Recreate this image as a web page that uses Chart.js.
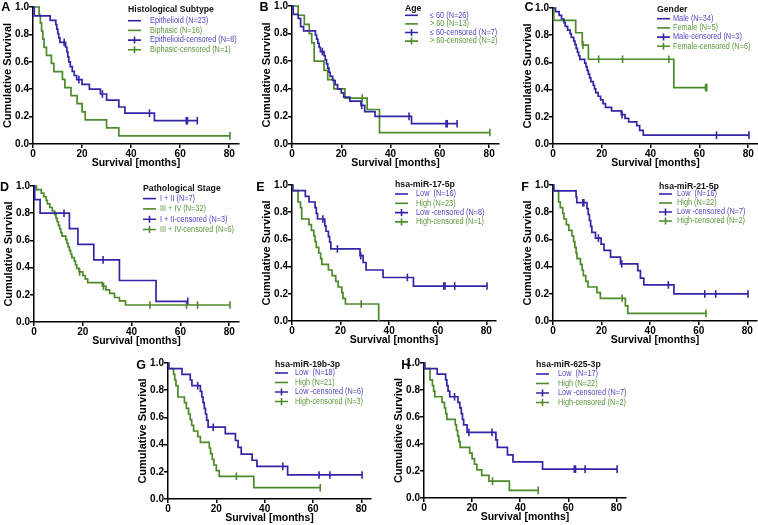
<!DOCTYPE html>
<html lang="en">
<head>
<meta charset="UTF-8">
<title>Kaplan-Meier survival</title>
<script src="https://cdn.jsdelivr.net/npm/chart.js@4"></script>
<style>
    body { margin: 0; background: #fff; }
    #wrap { position: relative; width: 758px; height: 525px; overflow: hidden; }
    #wrap canvas { position: absolute; }
    .letter { position: absolute; font: bold 12.5px 'Liberation Sans', Arial, sans-serif; line-height: 12px; color: #000; }
</style>
</head>
<body>
<div id="wrap"></div>
<script>
    // axis ticks
    const xTicks = [0, 20, 40, 60, 80];
    const yTicks = [0, 0.2, 0.4, 0.6, 0.8, 1.0];

    // A - histological subtype
    const epiTime = [0, 0.5, 7, 9.3, 9.7, 10.1, 10.5, 11, 13.3, 13.8, 14.2, 14.6, 15.2, 16, 16.8, 17.8, 20, 23, 27.5, 30, 35, 37.5, 49.5, 67];
    const epiSurv = [1, 0.935, 0.903, 0.871, 0.839, 0.806, 0.774, 0.742, 0.708, 0.672, 0.636, 0.6, 0.565, 0.53, 0.5, 0.47, 0.435, 0.4, 0.365, 0.32, 0.27, 0.225, 0.17, 0.17];
    const epiCens = [12.7, 18.7, 28.3, 47.5, 62.5, 63, 67];
    const biphTime = [0, 2.5, 3, 3.5, 4, 4.5, 5.5, 7.5, 8.5, 12, 13, 15.5, 18, 20, 21.3, 30, 35, 80.3];
    const biphSurv = [1, 0.941, 0.882, 0.824, 0.765, 0.706, 0.647, 0.588, 0.529, 0.471, 0.412, 0.353, 0.294, 0.235, 0.176, 0.118, 0.059, 0.059];
    const biphCens = [80.3];

    // B - age
    const ageLoTime = [0, 0.5, 2.5, 3.5, 4.7, 9.5, 10, 10.5, 11, 11.5, 13, 13.5, 14, 14.5, 15, 15.5, 16.5, 17.5, 18.5, 20, 21, 23.5, 28, 29.5, 33.7, 48.5, 67];
    const ageLoSurv = [1, 0.94, 0.91, 0.85, 0.82, 0.79, 0.76, 0.73, 0.70, 0.67, 0.64, 0.61, 0.58, 0.55, 0.52, 0.49, 0.46, 0.43, 0.40, 0.37, 0.34, 0.31, 0.28, 0.235, 0.2, 0.147, 0.147];
    const ageLoCens = [12.3, 28.3, 47.5, 62.5, 63, 67];
    const ageHiTime = [0, 2.5, 5, 7, 8, 9, 13, 14.5, 17, 21.5, 30.5, 35.5, 80.3];
    const ageHiSurv = [1, 0.933, 0.867, 0.8, 0.733, 0.6, 0.533, 0.467, 0.4, 0.333, 0.25, 0.083, 0.083];
    const ageHiCens = [28.5, 80.3];

    // C - gender
    const maleTime = [0, 1, 2.5, 3.5, 4.5, 5, 6, 7, 7.5, 8.5, 9, 9.5, 10, 10.5, 11, 13, 13.5, 14, 14.5, 15, 15.5, 16.5, 17, 17.5, 18.5, 19.5, 20.5, 21.5, 24, 28, 29.5, 31, 34.3, 35.5, 37, 80.3];
    const maleSurv = [1, 0.973, 0.946, 0.919, 0.892, 0.865, 0.838, 0.811, 0.784, 0.757, 0.730, 0.703, 0.676, 0.649, 0.622, 0.595, 0.568, 0.541, 0.514, 0.486, 0.459, 0.432, 0.405, 0.378, 0.351, 0.324, 0.297, 0.270, 0.243, 0.216, 0.189, 0.162, 0.135, 0.10, 0.065, 0.065];
    const maleCens = [28.3, 67, 80.3];
    const femaleTime = [0, 0.3, 9.3, 12, 14.5, 49.5, 63];
    const femaleSurv = [1, 0.909, 0.818, 0.727, 0.623, 0.415, 0.415];
    const femaleCens = [12.3, 18.7, 28.5, 47.5, 62.5, 63];

    // D - pathological stage
    const stage12Time = [0, 0.3, 2.5, 14.5, 18, 24.5, 35, 50, 63];
    const stage12Surv = [1, 0.9, 0.8, 0.686, 0.571, 0.457, 0.305, 0.152, 0.152];
    const stage12Cens = [12.3, 28.3, 63];
    const stage34Time = [0, 1, 3, 4, 5, 5.5, 6.5, 7.5, 8.5, 9, 9.5, 10, 10.5, 11, 11.5, 13, 13.5, 14, 14.5, 15, 15.5, 16.5, 17, 17.5, 18.5, 20, 21, 22, 28, 29.5, 31, 33, 35, 37.5, 80.3];
    const stage34Surv = [1, 0.974, 0.947, 0.921, 0.895, 0.868, 0.842, 0.816, 0.789, 0.763, 0.737, 0.711, 0.684, 0.658, 0.632, 0.605, 0.579, 0.553, 0.526, 0.5, 0.474, 0.447, 0.421, 0.395, 0.368, 0.342, 0.316, 0.289, 0.263, 0.236, 0.21, 0.18, 0.155, 0.125, 0.125];
    const stage34Cens = [18.7, 28.5, 47.5, 62.5, 67, 80.3];

    // E - hsa-miR-17-5p
    const mir17LowTime = [0, 0.3, 5.5, 7, 9.5, 10, 10.5, 13.5, 14, 15, 15.5, 16, 28, 29.3, 30.5, 37.5, 50, 80.3];
    const mir17LowSurv = [1, 0.958, 0.917, 0.875, 0.833, 0.792, 0.75, 0.70, 0.66, 0.62, 0.58, 0.53, 0.48, 0.43, 0.375, 0.32, 0.257, 0.257];
    const mir17LowCens = [12.7, 18.7, 28.3, 47.5, 62.5, 63, 67, 80.3];
    const mir17HighTime = [0, 0.3, 2.5, 3.5, 4, 7, 8, 9, 9.5, 10, 11, 11.8, 12.3, 15, 16.5, 18, 19, 20.5, 21, 22, 35.7];
    const mir17HighSurv = [1, 0.958, 0.875, 0.833, 0.75, 0.708, 0.667, 0.625, 0.583, 0.542, 0.5, 0.458, 0.417, 0.375, 0.333, 0.292, 0.25, 0.208, 0.167, 0.125, 0];
    const mir17HighCens = [28.5];

    // F - hsa-miR-21-5p
    const mir21LowTime = [0, 0.3, 9.5, 9.8, 14, 14.5, 15, 15.5, 16, 17.5, 19.8, 21, 23.7, 27.8, 34.9, 36, 37.4, 49.8, 80.3];
    const mir21LowSurv = [1, 0.957, 0.913, 0.87, 0.826, 0.783, 0.739, 0.696, 0.652, 0.609, 0.565, 0.52, 0.47, 0.42, 0.37, 0.315, 0.265, 0.199, 0.199];
    const mir21LowCens = [12.3, 12.7, 18.7, 28.3, 47.5, 62.5, 67, 80.3];
    const mir21HighTime = [0, 0.3, 2.3, 3, 4, 4.5, 5.5, 6.5, 7.8, 8.5, 9, 9.5, 9.9, 11.3, 12, 12.5, 13.5, 14.4, 18.1, 19.5, 29.8, 30.8, 63];
    const mir21HighSurv = [1, 0.958, 0.875, 0.833, 0.792, 0.75, 0.708, 0.667, 0.625, 0.583, 0.542, 0.5, 0.458, 0.417, 0.375, 0.333, 0.292, 0.25, 0.208, 0.167, 0.111, 0.056, 0.056];
    const mir21HighCens = [28.5, 63];

    // G - hsa-miR-19b-3p
    const mir19LowTime = [0, 0.3, 5.8, 9.2, 9.9, 13.4, 14, 14.5, 15, 15.5, 16, 16.6, 23.7, 27.9, 29, 30.3, 34.8, 36.8, 49.5, 80.3];
    const mir19LowSurv = [1, 0.958, 0.917, 0.875, 0.833, 0.792, 0.75, 0.708, 0.667, 0.625, 0.58, 0.528, 0.48, 0.43, 0.38, 0.33, 0.285, 0.24, 0.177, 0.177];
    const mir19LowCens = [12.3, 18.7, 47.5, 62.5, 67, 80.3];
    const mir19HighTime = [0, 0.3, 2.3, 2.8, 3.3, 4.1, 6.8, 7.6, 8.5, 9.2, 9.8, 10.6, 12.3, 13.4, 17.1, 17.6, 18.3, 19, 20, 21.2, 35.5, 63];
    const mir19HighSurv = [1, 0.958, 0.917, 0.875, 0.833, 0.75, 0.708, 0.667, 0.625, 0.583, 0.542, 0.5, 0.458, 0.417, 0.375, 0.333, 0.292, 0.25, 0.208, 0.167, 0.083, 0.083];
    const mir19HighCens = [28.3, 63];

    // H - hsa-miR-625-3p
    const mir625LowTime = [0, 0.3, 5.5, 9, 9.5, 10, 10.7, 14.1, 14.9, 15.5, 16, 16.5, 17.9, 29.9, 30.5, 34.7, 37, 49.3, 80.3];
    const mir625LowSurv = [1, 0.958, 0.917, 0.875, 0.833, 0.792, 0.75, 0.708, 0.667, 0.625, 0.583, 0.542, 0.486, 0.43, 0.375, 0.32, 0.267, 0.214, 0.214];
    const mir625LowCens = [12.7, 18.7, 28.3, 62.5, 63, 67, 80.3];
    const mir625HighTime = [0, 0.3, 2.5, 3.5, 4, 4.5, 7.5, 8.5, 9, 9.5, 13, 13.5, 14, 14.5, 15, 19, 20, 21, 22, 24, 27, 35.5, 47.5];
    const mir625HighSurv = [1, 0.958, 0.875, 0.833, 0.792, 0.75, 0.708, 0.667, 0.625, 0.583, 0.542, 0.5, 0.458, 0.417, 0.375, 0.333, 0.292, 0.25, 0.208, 0.167, 0.125, 0.057, 0.057];
    const mir625HighCens = [28.5, 47.5];

    // legend texts
    const legendA = ['Epithelioid (N=23)', 'Biphasic (N=16)', 'Epithelioid-censored (N=8)', 'Biphasic-censored (N=1)'];
    const legendB = ['\u2264 60 (N=26)', '> 60 (N=13)', '\u2264 60-censored (N=7)', '> 60-censored (N=2)'];
    const legendC = ['Male (N=34)', 'Female (N=5)', 'Male-censored (N=3)', 'Female-censored (N=6)'];
    const legendD = ['I + II (N=7)', 'III + IV (N=32)', 'I + II-censored (N=3)', 'III + IV-censored (N=6)'];
    const legendE = ['Low  (N=16)', 'High (N=23)', 'Low -censored (N=8)', 'High-censored (N=1)'];
    const legendF = ['Low  (N=16)', 'High (N=22)', 'Low -censored (N=7)', 'High-censored (N=2)'];
    const legendG = ['Low  (N=18)', 'High (N=21)', 'Low -censored (N=6)', 'High-censored (N=3)'];
    const legendH = ['Low  (N=17)', 'High (N=22)', 'Low -censored (N=7)', 'High-censored (N=2)'];

    const blue = '#3326a6';
    const green = '#4c8a2a';
    const blueText = '#5146c2';
    const greenText = '#5a963a';

    Chart.defaults.font.family = "'Liberation Sans', Arial, sans-serif";
    Chart.defaults.color = '#000';

    // layout of the 8 panels (pixel positions of month 0 / 80 and survival 1.0 / 0.0)
    const panels = [
        { letter: 'A', lx: 1.2, ly: 0.6, x0: 33, x80: 229, yTop: 7, yBot: 144, title: 'Histological Subtype', labels: legendA,
          blueC: [epiTime, epiSurv, epiCens], greenC: [biphTime, biphSurv, biphCens],
          leg: { dx: 95, titleDy: 2.2, rowDy: 13.7, gap: 9.7, textDx: 117 } },
        { letter: 'B', lx: 259.5, ly: 1.3, x0: 292, x80: 489, yTop: 6, yBot: 144, title: 'Age', labels: legendB,
          blueC: [ageLoTime, ageLoSurv, ageLoCens], greenC: [ageHiTime, ageHiSurv, ageHiCens],
          leg: { dx: 113, titleDy: 3, rowDy: 9.3, gap: 8.6, textDx: 138 } },
        { letter: 'C', lx: 524.5, ly: 1.3, x0: 553, x80: 748, yTop: 8, yBot: 144, title: 'Gender', labels: legendC,
          blueC: [maleTime, maleSurv, maleCens], greenC: [femaleTime, femaleSurv, femaleCens],
          leg: { dx: 104, titleDy: 1.7, rowDy: 10.7, gap: 9.2, textDx: 120 } },
        { letter: 'D', lx: 0, ly: 181.3, x0: 34, x80: 229, yTop: 186, yBot: 322, title: 'Pathological Stage', labels: legendD,
          blueC: [stage12Time, stage12Surv, stage12Cens], greenC: [stage34Time, stage34Surv, stage34Cens],
          leg: { dx: 109, titleDy: 2.6, rowDy: 12.6, gap: 10.3, textDx: 126 } },
        { letter: 'E', lx: 256.2, ly: 181.3, x0: 292, x80: 486, yTop: 185, yBot: 321, title: 'hsa-miR-17-5p', labels: legendE,
          blueC: [mir17LowTime, mir17LowSurv, mir17LowCens], greenC: [mir17HighTime, mir17HighSurv, mir17HighCens],
          leg: { dx: 103, titleDy: 0, rowDy: 9, gap: 9.3, textDx: 124 } },
        { letter: 'F', lx: 521.2, ly: 181.3, x0: 553, x80: 747, yTop: 185, yBot: 321, title: 'hsa-miR-21-5p', labels: legendF,
          blueC: [mir21LowTime, mir21LowSurv, mir21LowCens], greenC: [mir21HighTime, mir21HighSurv, mir21HighCens],
          leg: { dx: 106, titleDy: 1.7, rowDy: 9, gap: 9, textDx: 124 } },
        { letter: 'G', lx: 136.2, ly: 358.6, x0: 168, x80: 361, yTop: 363, yBot: 499, title: 'hsa-miR-19b-3p', labels: legendG,
          blueC: [mir19LowTime, mir19LowSurv, mir19LowCens], greenC: [mir19HighTime, mir19HighSurv, mir19HighCens],
          leg: { dx: 107, titleDy: 1.7, rowDy: 10, gap: 9.5, textDx: 127 } },
        { letter: 'H', lx: 401.2, ly: 358.6, x0: 424, x80: 616, yTop: 363, yBot: 498, title: 'hsa-miR-625-3p', labels: legendH,
          blueC: [mir625LowTime, mir625LowSurv, mir625LowCens], greenC: [mir625HighTime, mir625HighSurv, mir625HighCens],
          leg: { dx: 112, titleDy: 1.7, rowDy: 11, gap: 9.5, textDx: 134 } }
    ];

    const Y_AXIS_W = 33, X_AXIS_H = 26, PAD_TOP = 8, PAD_RIGHT = 30, X_MAX = 84;

    function survAt(times, surv, t) {
        let s = surv[0];
        for (let i = 0; i < times.length; i++) {
            if (times[i] <= t) s = surv[i];
        }
        return s;
    }
    function toPoints(times, surv) {
        return times.map((t, i) => ({ x: t, y: surv[i] }));
    }
    function censorPoints(times, surv, cens) {
        return cens.map(t => ({ x: t, y: survAt(times, surv, t) }));
    }

    // legend drawn inside the plot, like the Prism original
    function legendPlugin(p) {
        return {
            id: 'kmLegend',
            afterDraw(chart) {
                const ctx = chart.ctx, a = chart.chartArea, L = p.leg;
                const x = a.left + L.dx;
                ctx.save();
                ctx.textBaseline = 'middle';
                ctx.textAlign = 'left';
                ctx.fillStyle = '#111';
                ctx.font = "bold 8.7px 'Liberation Sans', Arial, sans-serif";
                ctx.fillText(p.title, x, a.top + L.titleDy);
                ctx.font = "8.5px 'Liberation Sans', Arial, sans-serif";
                p.labels.forEach((txt, i) => {
                    const y = a.top + L.rowDy + i * L.gap;
                    const col = i % 2 === 0 ? blue : green;
                    ctx.strokeStyle = col;
                    ctx.lineWidth = 1.6;
                    ctx.beginPath();
                    ctx.moveTo(x, y);
                    ctx.lineTo(x + 13, y);
                    if (i >= 2) {
                        ctx.moveTo(x + 6.5, y - 3.5);
                        ctx.lineTo(x + 6.5, y + 3.5);
                    }
                    ctx.stroke();
                    ctx.fillStyle = i % 2 === 0 ? blueText : greenText;
                    ctx.save();
                    ctx.translate(a.left + L.textDx, y);
                    ctx.scale(0.86, 1);
                    ctx.fillText(txt, 0, 0);
                    ctx.restore();
                });
                ctx.restore();
            }
        };
    }

    function curveSet(c, color) {
        return {
            data: toPoints(c[0], c[1]),
            stepped: true,
            borderColor: color,
            borderWidth: 1.7,
            pointRadius: 0,
            fill: false,
            clip: false
        };
    }
    function censorSet(c, color) {
        return {
            data: censorPoints(c[0], c[1], c[2]),
            showLine: false,
            pointStyle: 'line',
            rotation: 90,
            pointRadius: 3.8,
            borderColor: color,
            backgroundColor: color,
            borderWidth: 1.6,
            clip: false
        };
    }

    const wrap = document.getElementById('wrap');

    panels.forEach(function (p) {
        const plotW = Math.round((p.x80 - p.x0) * X_MAX / 80);
        const plotH = p.yBot - p.yTop;
        const cv = document.createElement('canvas');
        const w = Y_AXIS_W + plotW + PAD_RIGHT;
        const h = PAD_TOP + plotH + X_AXIS_H;
        cv.width = w;
        cv.height = h;
        cv.style.width = w + 'px';
        cv.style.height = h + 'px';
        cv.style.left = (p.x0 - Y_AXIS_W) + 'px';
        cv.style.top = (p.yTop - PAD_TOP) + 'px';
        wrap.appendChild(cv);

        const lt = document.createElement('div');
        lt.className = 'letter';
        lt.textContent = p.letter;
        lt.style.left = p.lx + 'px';
        lt.style.top = p.ly + 'px';
        wrap.appendChild(lt);

        new Chart(cv, {
            type: 'line',
            data: {
                datasets: [
                    curveSet(p.blueC, blue),
                    curveSet(p.greenC, green),
                    censorSet(p.blueC, blue),
                    censorSet(p.greenC, green)
                ]
            },
            options: {
                responsive: false,
                animation: false,
                events: [],
                layout: { padding: { top: PAD_TOP, right: PAD_RIGHT, left: 0, bottom: 0 } },
                scales: {
                    x: {
                        type: 'linear',
                        min: 0,
                        max: X_MAX,
                        afterBuildTicks: s => { s.ticks = xTicks.map(v => ({ value: v })); },
                        afterFit: s => { s.height = X_AXIS_H; },
                        grid: { drawOnChartArea: false, drawTicks: true, tickLength: 4, color: '#000', lineWidth: 1.5 },
                        border: { display: true, color: '#000', width: 1.5 },
                        ticks: { padding: 0, maxRotation: 0, font: { size: 10, weight: 'bold' }, color: '#000' },
                        title: { display: true, text: 'Survival [months]', font: { size: 10.5, weight: 'bold' }, color: '#000', padding: { top: 0, bottom: 1 } }
                    },
                    y: {
                        min: 0,
                        max: 1,
                        afterBuildTicks: s => { s.ticks = yTicks.map(v => ({ value: v })); },
                        afterFit: s => { s.width = Y_AXIS_W; },
                        grid: { drawOnChartArea: false, drawTicks: true, tickLength: 4, color: '#000', lineWidth: 1.5 },
                        border: { display: true, color: '#000', width: 1.5 },
                        ticks: { padding: 0, font: { size: 10, weight: 'bold' }, color: '#000', callback: v => v.toFixed(1) },
                        title: { display: true, text: 'Cumulative Survival', font: { size: 11, weight: 'bold' }, color: '#000', padding: { top: 1, bottom: 0 } }
                    }
                },
                plugins: {
                    legend: { display: false },
                    tooltip: { enabled: false }
                }
            },
            plugins: [legendPlugin(p)]
        });
    });
</script>
</body>
</html>
